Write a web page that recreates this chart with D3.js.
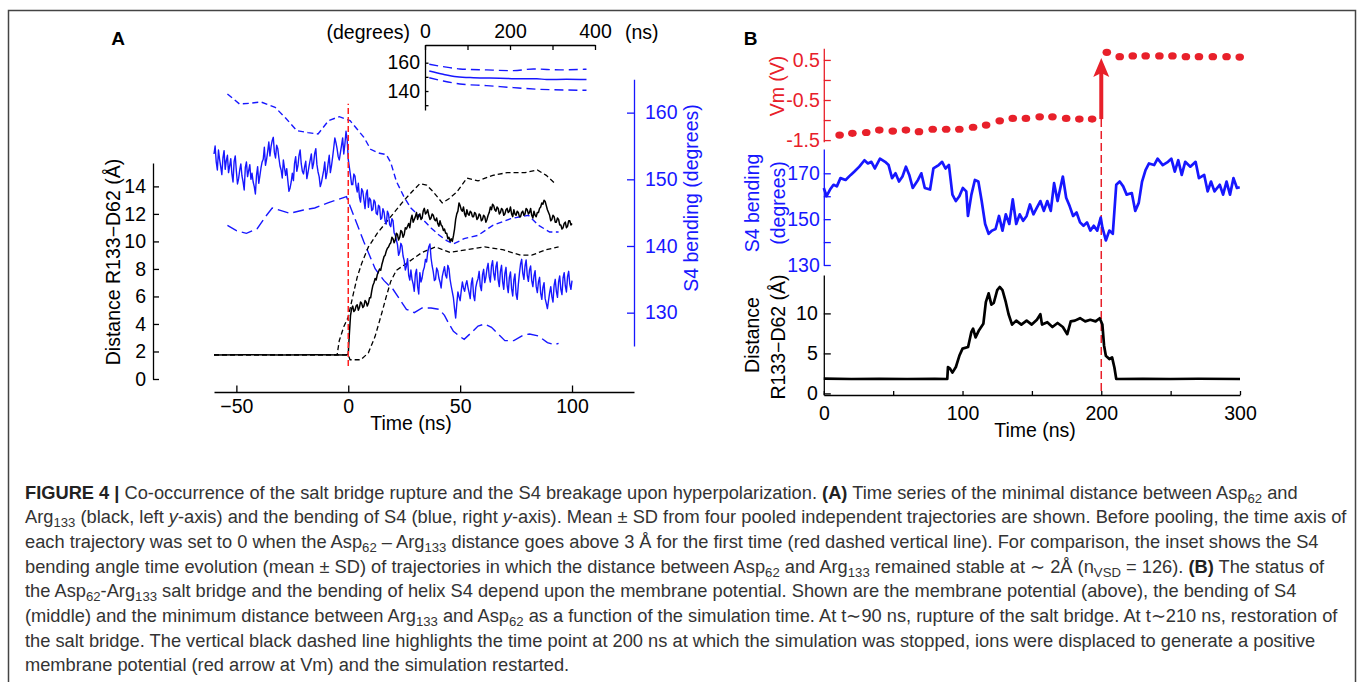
<!DOCTYPE html>
<html>
<head>
<meta charset="utf-8">
<script src="https://cdn.jsdelivr.net/npm/d3@7"></script>
<style>
  body { margin: 0; background: #fff; }
  svg { display: block; font-family: "Liberation Sans", Arial, sans-serif; }
  .cap { white-space: pre; }
</style>
</head>
<body>
<svg id="fig" width="1358" height="682"></svg>
<script>
// ---------- data: panel A (time in ns, distance in Å, bending in degrees) ----------
const aXTicks = [-50, 0, 50, 100];
const aDistTicks = [0, 2, 4, 6, 8, 10, 12, 14];
const aBendTicks = [130, 140, 150, 160];

const aBlackMean = [[-60,1.75],[-45,1.77],[-30,1.74],[-15,1.76],[-1,1.75],[0,1.8],[0.5,3.3],[1,4.6],[1.5,5.1],[2,5.3],[2.5,4.9],[3,5.0],[3.5,5.3],[4,5.4],[4.5,5.0],[5,5.2],[5.5,5.6],[6,5.5],[6.5,5.2],[7,5.3],[7.5,5.7],[8,5.6],[8.5,5.3],[9,5.5],[9.5,5.9],[10,5.9],[10.5,6.4],[11,6.8],[11.5,7.0],[12,7.3],[12.5,7.2],[13,7.6],[13.5,7.8],[14,8.0],[14.5,7.9],[15,8.3],[15.5,8.6],[16,8.9],[16.5,9.0],[17,9.3],[17.5,9.5],[18,9.6],[18.5,9.8],[19,9.9],[19.5,10.3],[20,10.2],[20.5,9.9],[21,10.1],[21.5,10.6],[22,10.5],[22.5,10.1],[23,10.3],[23.5,10.8],[24,10.7],[24.5,10.3],[25,10.5],[25.5,11.0],[26,10.9],[26.5,11.1],[27,11.3],[27.5,11.0],[28,11.6],[28.5,11.9],[29,11.4],[29.5,11.6],[30,11.8],[30.5,12.1],[31,11.6],[31.5,11.9],[32,12.0],[32.5,11.6],[33,11.7],[33.5,12.2],[34,12.4],[34.5,12.0],[35,12.1],[35.5,12.3],[36,11.9],[36.5,11.6],[37,11.7],[37.5,12.0],[38,11.9],[38.5,11.6],[39,11.5],[39.5,11.7],[40,11.3],[40.5,11.1],[41,11.5],[41.5,11.2],[42,11.1],[42.5,10.8],[43,10.9],[43.5,10.6],[44,10.6],[44.5,10.2],[45,10.3],[45.5,10.0],[46,10.2],[46.5,10.0],[47,10.4],[47.5,10.9],[48,11.6],[48.5,12.0],[49,12.2],[49.5,12.8],[50,12.6],[50.5,12.3],[51,12.2],[51.5,12.5],[52,12.0],[52.5,11.8],[53,12.3],[53.5,12.0],[54,11.9],[54.5,12.2],[55,12.1],[55.5,11.8],[56,11.8],[56.5,12.1],[57,12.0],[57.5,11.6],[58,11.7],[58.5,12.0],[59,11.9],[59.5,11.5],[60,11.6],[60.5,11.9],[61,11.8],[61.5,11.4],[62,11.6],[62.5,11.9],[63,12.1],[63.5,12.5],[64,12.3],[64.5,12.7],[65,12.6],[65.5,12.3],[66,12.2],[66.5,12.5],[67,12.4],[67.5,12.0],[68,12.1],[68.5,12.4],[69,12.3],[69.5,11.9],[70,12.0],[70.5,12.3],[71,12.4],[71.5,12.1],[72,12.2],[72.5,12.5],[73,12.0],[73.5,11.8],[74,12.3],[74.5,12.0],[75,11.9],[75.5,12.2],[76,12.1],[76.5,11.8],[77,11.8],[77.5,12.1],[78,12.2],[78.5,11.9],[79,12.0],[79.5,12.4],[80,12.3],[80.5,12.0],[81,12.1],[81.5,12.4],[82,11.9],[82.5,11.7],[83,12.2],[83.5,11.9],[84,11.8],[84.5,12.1],[85,12.1],[85.5,12.4],[86,12.5],[86.5,12.8],[87,12.7],[87.5,13.0],[88,12.9],[88.5,12.6],[89,12.3],[89.5,12.1],[90,11.9],[90.5,11.5],[91,11.6],[91.5,11.9],[92,11.8],[92.5,11.4],[93,11.4],[93.5,11.7],[94,11.6],[94.5,11.2],[95,11.2],[95.5,10.9],[96,11.0],[96.5,11.3],[97,11.4],[97.5,11.0],[98,11.1],[98.5,11.5],[99,11.5],[99.5,11.2],[100,11.3]];
const aBlackUpper = [[-60,1.75],[-5,1.75],[-4,2.8],[-2,3.8],[0,4.5],[2,6.0],[4,7.4],[6,8.4],[9,9.6],[13,10.6],[17,11.4],[21,12.2],[25,13.0],[29,13.7],[32,14.2],[35,14.1],[38,13.6],[42,12.8],[45,13.1],[48.6,13.6],[53,14.6],[58,14.4],[64.6,14.8],[71,15.0],[79,15.0],[84.5,15.2],[88.5,14.8],[92.5,14.2]];
const aBlackLower = [[-60,1.75],[0,1.75],[0.8,1.4],[5.6,1.4],[9,1.9],[12,3.1],[15,4.8],[17,6.0],[19,7.1],[21.5,7.9],[26,8.4],[33,9.2],[39,9.6],[45.5,9.2],[53,9.4],[61,9.6],[69,9.4],[77,9.0],[82,9.0],[88.5,9.4],[94,9.6]];

const aBlueMean = [[-60,153.8],[-59.5,155.0],[-59,152.6],[-58.5,151.4],[-58,154.4],[-57.5,153.0],[-57,151.9],[-56.5,150.7],[-56,153.2],[-55.5,154.3],[-55,151.5],[-54.5,152.8],[-54,153.6],[-53.5,151.0],[-53,152.0],[-52.5,153.1],[-52,150.8],[-51.5,149.6],[-51,152.7],[-50.5,153.5],[-50,151.2],[-49.5,149.3],[-49,150.1],[-48.5,151.4],[-48,152.3],[-47.5,150.5],[-47,149.6],[-46.5,148.4],[-46,151.8],[-45.5,152.6],[-45,150.4],[-44.5,151.3],[-44,152.2],[-43.5,150.0],[-43,150.9],[-42.5,149.6],[-42,148.9],[-41.5,147.8],[-41,150.6],[-40.5,151.9],[-40,149.4],[-39.5,150.5],[-39,151.7],[-38.5,152.6],[-38,153.0],[-37.5,154.8],[-37,152.1],[-36.5,153.0],[-36,154.2],[-35.5,155.6],[-35,153.5],[-34.5,154.9],[-34,155.8],[-33.5,156.3],[-33,154.0],[-32.5,153.2],[-32,155.1],[-31.5,154.6],[-31,153.2],[-30.5,152.0],[-30,151.4],[-29.5,150.2],[-29,152.9],[-28.5,151.7],[-28,150.6],[-27.5,151.6],[-27,149.8],[-26.5,148.2],[-26,148.7],[-25.5,149.6],[-25,150.9],[-24.5,149.8],[-24,152.4],[-23.5,153.4],[-23,151.2],[-22.5,152.0],[-22,153.6],[-21.5,154.4],[-21,152.3],[-20.5,151.2],[-20,150.8],[-19.5,151.9],[-19,152.7],[-18.5,150.1],[-18,151.0],[-17.5,152.0],[-17,152.9],[-16.5,153.8],[-16,151.6],[-15.5,152.4],[-15,153.9],[-14.5,154.6],[-14,152.2],[-13.5,151.1],[-13,150.4],[-12.5,148.9],[-12,149.5],[-11.5,150.4],[-11,151.3],[-10.5,152.6],[-10,150.1],[-9.5,151.0],[-9,152.4],[-8.5,153.6],[-8,151.0],[-7.5,152.0],[-7,153.3],[-6.5,154.7],[-6,156.2],[-5.5,155.5],[-5,154.6],[-4.5,153.4],[-4,152.9],[-3.5,154.0],[-3,155.1],[-2.5,156.2],[-2,153.8],[-1.5,155.3],[-1,157.2],[-0.5,156.0],[0,153.0],[0.5,151.8],[1,150.6],[1.5,149.2],[2,149.2],[2.5,150.8],[3,150.5],[3.5,149.0],[4,148.1],[4.5,149.4],[5,147.3],[5.5,146.6],[6,148.6],[6.5,148.2],[7,146.9],[7.5,145.6],[8,147.8],[8.5,148.4],[9,145.8],[9.5,147.2],[10,146.9],[10.5,145.3],[11,145.5],[11.5,146.9],[12,146.6],[12.5,144.9],[13,144.7],[13.5,146.1],[14,145.9],[14.5,144.0],[15,144.2],[15.5,145.6],[16,145.1],[16.5,143.7],[17,143.3],[17.5,145.2],[18,144.8],[18.5,143.2],[19,142.9],[19.5,144.1],[20,143.8],[20.5,142.0],[21,141.6],[21.5,140.9],[22,140.2],[22.5,138.6],[23,139.1],[23.5,140.4],[24,140.0],[24.5,138.5],[25,137.8],[25.5,136.4],[26,137.0],[26.5,138.1],[27,135.6],[27.5,134.9],[28,136.4],[28.5,135.0],[29,134.3],[29.5,133.2],[30,135.8],[30.5,136.5],[31,133.9],[31.5,132.8],[32,136.0],[32.5,134.6],[33,135.2],[33.5,136.3],[34,136.8],[34.5,138.0],[35,137.6],[35.5,139.0],[36,139.9],[36.5,140.3],[37,138.2],[37.5,137.0],[38,136.1],[38.5,134.8],[39,135.0],[39.5,136.7],[40,136.3],[40.5,135.2],[41,134.6],[41.5,133.7],[42,135.4],[42.5,136.2],[43,136.9],[43.5,135.6],[44,135.2],[44.5,137.1],[45,136.6],[45.5,135.0],[46,134.0],[46.5,133.1],[47,132.2],[47.5,130.6],[48,129.2],[48.5,131.3],[49,133.1],[49.5,132.4],[50,131.8],[50.5,133.3],[51,134.6],[51.5,133.7],[52,133.2],[52.5,134.2],[53,134.8],[53.5,133.8],[54,133.0],[54.5,132.1],[55,134.4],[55.5,135.2],[56,132.6],[56.5,131.8],[57,133.8],[57.5,134.6],[58,135.1],[58.5,136.2],[59,134.0],[59.5,133.3],[60,135.7],[60.5,136.5],[61,134.5],[61.5,135.3],[62,136.6],[62.5,137.4],[63,135.4],[63.5,134.6],[64,137.0],[64.5,137.8],[65,135.8],[65.5,134.9],[66,136.9],[66.5,137.6],[67,134.9],[67.5,133.9],[68,136.2],[68.5,137.1],[69,134.6],[69.5,133.5],[70,135.9],[70.5,136.8],[71,134.1],[71.5,133.0],[72,135.3],[72.5,136.1],[73,133.6],[73.5,132.5],[74,134.9],[74.5,135.8],[75,132.8],[75.5,132.0],[76,134.2],[76.5,135.9],[77,137.3],[77.5,138.0],[78,135.9],[78.5,135.0],[79,137.0],[79.5,137.9],[80,135.6],[80.5,134.7],[81,136.4],[81.5,137.0],[82,134.8],[82.5,133.9],[83,135.5],[83.5,136.3],[84,133.9],[84.5,133.0],[85,134.6],[85.5,135.3],[86,132.9],[86.5,132.0],[87,133.8],[87.5,134.5],[88,132.1],[88.5,131.4],[89,130.6],[89.5,131.8],[90,133.0],[90.5,133.9],[91,132.4],[91.5,131.6],[92,134.1],[92.5,135.0],[93,133.2],[93.5,132.3],[94,134.6],[94.5,135.5],[95,133.5],[95.5,132.7],[96,135.2],[96.5,136.0],[97,134.0],[97.5,133.1],[98,135.4],[98.5,136.2],[99,134.3],[99.5,133.5],[100,134.8]];
const aBlueUpper = [[-54,162.8],[-48.6,161.3],[-44,161.4],[-39,161.6],[-32.7,160.8],[-28,159.2],[-23,157.3],[-18,157.0],[-13.5,156.8],[-8.8,158.8],[-4,159.4],[0.8,158.8],[4,157.5],[7,156.3],[10,154.5],[14,153.9],[17,153.7],[19,152.5],[21.5,149.7],[25,147.3],[28,145.7],[33,144.1],[37,142.7],[40.7,141.6],[44,140.8],[47,140.3],[51.8,141.1],[58,141.6],[64.6,143.1],[72.6,144.1],[80.5,144.6],[85,143.1],[90,142.1],[94,142.1]];
const aBlueLower = [[-54,143.1],[-50,142.3],[-45.5,141.9],[-40.7,142.6],[-37,144.4],[-34,145.7],[-30,145.3],[-26,144.9],[-20,145.4],[-15,145.7],[-8.8,146.5],[-0.8,147.4],[2.4,144.6],[7,140.6],[12,136.6],[16,134.8],[20,133.5],[23,132.0],[26,130.5],[29.5,130.0],[33,130.7],[37,130.7],[40.7,130.5],[43,129.6],[44.7,128.5],[47,127.2],[50,126.4],[51.8,126.0],[55,127.0],[58,128.0],[61,128.3],[64,127.8],[67,126.8],[70,125.8],[74,125.8],[78,126.6],[81,126.8],[85,126.5],[89,125.5],[92,125.2],[94,125.4]];
const aMarkerRange = [0.95, 20.0]; // red dashed line at t = 0, in Å units

// inset: pooled stable trajectories
const insetXTicks = [0, 100, 200, 300, 400];
const insetYTicks = [130, 140, 150, 160];
const insetMean = [[10,154.1],[43,151.8],[75,150.1],[114,149.4],[176,149.0],[224,148.6],[263,148.7],[286,148.1],[333,148.3],[380,148.1]];
const insetUpper = [[10,158.9],[43,157.2],[82,155.6],[145,154.9],[208,154.4],[255,155.6],[318,154.9],[380,155.4]];
const insetLower = [[10,149.4],[43,147.1],[82,145.0],[145,143.8],[208,142.4],[271,141.2],[333,140.7],[380,140.5]];

// ---------- data: panel B ----------
const bXTicks = [0, 50, 100, 150, 200, 250, 300];
const bVmTicks = [-1.5, -1, -0.5, 0, 0.5];
const bBendTicks = [130, 140, 150, 160, 170];
const bDistTicks = [0, 5, 10];

const bVm = [[11.4,-1.375],[20.6,-1.33],[30.6,-1.31],[40,-1.25],[49.7,-1.275],[59.2,-1.25],[68.6,-1.29],[78.5,-1.23],[88.2,-1.23],[97.7,-1.23],[107.6,-1.18],[117,-1.125],[126.8,-1.02],[136.2,-0.96],[145.7,-0.96],[155.6,-0.92],[164.8,-0.92],[174.7,-0.96],[184.2,-0.975],[193.4,-0.975],[204,0.69],[213.3,0.58],[222.7,0.6],[232,0.6],[241.9,0.6],[251.3,0.6],[261,0.58],[270.4,0.58],[280.4,0.58],[290.3,0.58],[299.8,0.57]];
const bArrow = { t: 200, from: -0.975, to: 0.55 };

const bBend = [[0,163.6],[2,160],[4.5,162.9],[7,165],[9.4,164.3],[12,167.9],[15.7,167.1],[19.4,169.3],[21.9,170.7],[25.6,172.9],[29.3,175.7],[31.8,174.3],[34.3,175],[36.8,172.1],[40.5,176.4],[44.2,175],[46.7,173.6],[49.2,167.9],[51.7,170],[54.2,166.4],[56.7,168.6],[59.2,172.9],[61.6,169.3],[64.1,163.6],[67.9,167.1],[70.3,170],[72.8,163.6],[76.6,162.9],[79,172.1],[82.8,173.6],[85.3,175],[87.7,172.1],[90.2,173.6],[92.7,160.7],[95.2,157.9],[97.7,160],[100.2,163.6],[102.7,162.1],[103.9,151.4],[106.4,160.7],[108.9,167.1],[111.4,166.4],[113.8,157.9],[116.3,147.9],[118.8,143.6],[121.3,145],[123.8,145.7],[126.3,151.4],[128.8,145],[131.2,152.1],[133.7,147.9],[136.2,158.6],[138.7,147.9],[141.2,152.1],[143.7,149.3],[146.2,151.4],[148.6,156.4],[151.1,152.1],[153.6,155],[156.1,157.9],[158.6,153.6],[161.1,157.9],[163.6,153.6],[166,165.7],[168.5,157.9],[171,165],[172.3,168.6],[174.7,159.3],[177.2,155.7],[179.7,151.4],[182.2,152.9],[184.7,148.6],[187.2,147.1],[189.7,148.6],[192.1,145],[194.6,147.1],[197.1,145],[199.6,150.7],[200.8,146.4],[203.3,140.7],[205.8,145],[208.3,143.6],[210.8,165],[213.3,166.4],[215.8,164.3],[218.3,160.7],[222,161.4],[224.5,153.6],[227,157.1],[229.4,166.4],[231.9,171.4],[234.4,174.3],[238.1,173.6],[240.6,176.4],[244.3,173.6],[248.1,175],[250.5,176.4],[253,170.7],[255.5,175.7],[258,169.3],[260.5,175],[264.2,172.9],[268,175],[270.4,167.9],[274.2,169.3],[276.7,162.1],[279.1,166.4],[281.6,162.1],[285.4,165],[287.8,160.7],[290.3,166.4],[292.8,160.7],[295.3,167.9],[297.8,163.6],[299.8,163.9]];

const bDist = [[0,1.85],[20,1.8],[40,1.82],[60,1.8],[80,1.82],[89,1.8],[89.5,3.3],[91,3.1],[92.7,2.6],[95.2,3.3],[97.7,4.7],[100,5.6],[104,5.8],[106.4,7.7],[107.6,8.1],[109.4,7.0],[111.9,7.9],[115,8.7],[116.8,11.4],[118.8,12.5],[120.8,11.1],[122.5,11.3],[125,12.9],[126.8,13.3],[128.8,12.9],[131.2,11.4],[133.2,9.9],[135.7,8.6],[138.7,9.1],[142.4,8.6],[146.2,9.1],[149.9,8.6],[153.6,9.2],[156.1,9.9],[157.3,8.6],[161.1,8.9],[164.8,8.3],[168.5,8.8],[172.3,8.3],[175.5,7.4],[178,9.0],[181,9.1],[184.7,9.4],[188.4,9.0],[192.1,9.2],[195.9,9.0],[198.9,9.4],[200.8,8.6],[202,6.0],[203.3,4.7],[205.8,4.3],[207.8,4.5],[209.5,3.2],[210.8,1.8],[230,1.82],[250,1.8],[270,1.83],[300,1.8]];

// ---------- caption ----------
const captionLines = [
  [["FIGURE 4 |","b"],[" Co-occurrence of the salt bridge rupture and the S4 breakage upon hyperpolarization. ",""],["(A)","b"],[" Time series of the minimal distance between Asp",""],["62","s"],[" and",""]],
  [["Arg",""],["133","s"],[" (black, left ",""],["y","i"],["-axis) and the bending of S4 (blue, right ",""],["y","i"],["-axis). Mean ± SD from four pooled independent trajectories are shown. Before pooling, the time axis of",""]],
  [["each trajectory was set to 0 when the Asp",""],["62","s"],[" – Arg",""],["133","s"],[" distance goes above 3 Å for the first time (red dashed vertical line). For comparison, the inset shows the S4",""]],
  [["bending angle time evolution (mean ± SD) of trajectories in which the distance between Asp",""],["62","s"],[" and Arg",""],["133","s"],[" remained stable at ∼ 2Å (n",""],["VSD","s"],[" = 126). ",""],["(B)","b"],[" The status of",""]],
  [["the Asp",""],["62","s"],["-Arg",""],["133","s"],[" salt bridge and the bending of helix S4 depend upon the membrane potential. Shown are the membrane potential (above), the bending of S4",""]],
  [["(middle) and the minimum distance between Arg",""],["133","s"],[" and Asp",""],["62","s"],[" as a function of the simulation time. At t∼90 ns, rupture of the salt bridge. At t∼210 ns, restoration of",""]],
  [["the salt bridge. The vertical black dashed line highlights the time point at 200 ns at which the simulation was stopped, ions were displaced to generate a positive",""]],
  [["membrane potential (red arrow at Vm) and the simulation restarted.",""]]
];

const BLUE = '#1717ff';
const RED = '#e8202a';
const FS = 19.5;

const svg = d3.select('#fig');

// frame round the figure
svg.append('rect')
  .attr('x', 8.5).attr('y', 10.5).attr('width', 1347).attr('height', 700)
  .attr('fill', 'none').attr('stroke', '#444').attr('stroke-width', 1.5);

function styleAxis(g, color) {
  g.attr('font-size', null).attr('font-family', null);
  g.select('.domain').attr('stroke', color).attr('stroke-width', 1.3);
  g.selectAll('.tick line').attr('stroke', color).attr('stroke-width', 1.3);
  g.selectAll('.tick text').attr('fill', color).style('font-size', FS + 'px');
}

function label(txt, x, y, opts = {}) {
  const t = svg.append('text')
    .attr('x', x).attr('y', y)
    .attr('text-anchor', opts.anchor || 'middle')
    .attr('fill', opts.color || '#000')
    .style('font-size', (opts.size || FS) + 'px')
    .style('font-weight', opts.bold ? 'bold' : null)
    .text(txt);
  if (opts.rotate) {
    t.attr('dominant-baseline', 'central')
      .attr('transform', `rotate(-90, ${x}, ${y})`);
  }
  return t;
}

// ========== Panel A ==========
const xA = d3.scaleLinear().domain([-60, 127.7]).range([214, 634]);
const yA = d3.scaleLinear().domain([0, 15.7]).range([379, 163]);
const yAb = d3.scaleLinear().domain([125, 165]).range([346, 79.3]);

svg.append('g').attr('transform', 'translate(0,392)')
  .call(d3.axisBottom(xA).tickValues(aXTicks).tickSize(-6.5).tickSizeOuter(0).tickPadding(7))
  .call(g => styleAxis(g, '#000'));

svg.append('g').attr('transform', 'translate(153,0)')
  .call(d3.axisLeft(yA).tickValues(aDistTicks).tickSize(-6).tickSizeOuter(0).tickPadding(7))
  .call(g => styleAxis(g, '#000'));

svg.append('g').attr('transform', 'translate(634,0)')
  .call(d3.axisRight(yAb).tickValues(aBendTicks).tickSize(-7).tickSizeOuter(0).tickPadding(11))
  .call(g => styleAxis(g, BLUE));

const lineA = d3.line().x(d => xA(d[0])).y(d => yA(d[1]));
const lineAb = d3.line().x(d => xA(d[0])).y(d => yAb(d[1]));

svg.append('path').datum(aBlueUpper).attr('d', lineAb)
  .attr('fill', 'none').attr('stroke', BLUE).attr('stroke-width', 1.4).attr('stroke-dasharray', '6,3.5');
svg.append('path').datum(aBlueLower).attr('d', lineAb)
  .attr('fill', 'none').attr('stroke', BLUE).attr('stroke-width', 1.4).attr('stroke-dasharray', '11,5');
svg.append('path').datum(aBlackUpper).attr('d', lineA)
  .attr('fill', 'none').attr('stroke', '#000').attr('stroke-width', 1.3).attr('stroke-dasharray', '5,3');
svg.append('path').datum(aBlackLower).attr('d', lineA)
  .attr('fill', 'none').attr('stroke', '#000').attr('stroke-width', 1.3).attr('stroke-dasharray', '5,3');
svg.append('path').datum(aBlueMean).attr('d', lineAb)
  .attr('fill', 'none').attr('stroke', BLUE).attr('stroke-width', 1.4).attr('stroke-linejoin', 'round');
svg.append('path').datum(aBlackMean).attr('d', lineA)
  .attr('fill', 'none').attr('stroke', '#000').attr('stroke-width', 1.5).attr('stroke-linejoin', 'round');

svg.append('line')
  .attr('x1', xA(0)).attr('x2', xA(0))
  .attr('y1', yA(aMarkerRange[0])).attr('y2', yA(aMarkerRange[1]))
  .attr('stroke', '#ff1f1f').attr('stroke-width', 1.5).attr('stroke-dasharray', '6,3');

label('A', 118, 45, { bold: true, size: 19 });
label('Time (ns)', 411, 430);
label('Distance R133\u2212D62 (Å)', 112.5, 262, { rotate: true });
label('S4 bending (degrees)', 691, 198, { rotate: true, color: BLUE });

// inset
const xI = d3.scaleLinear().domain([0, 400]).range([425, 595]);
const yI = d3.scaleLinear().domain([126.6, 172.5]).range([110, 45]);

svg.append('g').attr('transform', 'translate(0,45)')
  .call(d3.axisTop(xI).tickValues(insetXTicks).tickSize(-5).tickSizeOuter(0).tickPadding(7)
    .tickFormat(d => d % 200 === 0 ? d : ''))
  .call(g => styleAxis(g, '#000'));
svg.append('g').attr('transform', 'translate(425,0)')
  .call(d3.axisLeft(yI).tickValues(insetYTicks).tickSize(-3.5).tickSizeOuter(0).tickPadding(5)
    .tickFormat(d => d % 20 === 0 ? d : ''))
  .call(g => styleAxis(g, '#000'));

const lineI = d3.line().x(d => xI(d[0])).y(d => yI(d[1])).curve(d3.curveMonotoneX);
svg.append('path').datum(insetUpper).attr('d', lineI)
  .attr('fill', 'none').attr('stroke', BLUE).attr('stroke-width', 1.4).attr('stroke-dasharray', '9,5');
svg.append('path').datum(insetLower).attr('d', lineI)
  .attr('fill', 'none').attr('stroke', BLUE).attr('stroke-width', 1.4).attr('stroke-dasharray', '9,5');
svg.append('path').datum(insetMean).attr('d', lineI)
  .attr('fill', 'none').attr('stroke', BLUE).attr('stroke-width', 1.5);

label('(degrees)', 410, 38.5, { anchor: 'end' });
label('(ns)', 625, 38.5, { anchor: 'start' });

// ========== Panel B ==========
const xB = d3.scaleLinear().domain([0, 300]).range([823.8, 1240]);
const yVm = d3.scaleLinear().domain([-1.54, 0.79]).range([141.7, 48.3]);
const yS4 = d3.scaleLinear().domain([130, 180.6]).range([265, 149]);
const yD = d3.scaleLinear().domain([-0.2, 14.8]).range([395, 275]);

svg.append('g').attr('transform', 'translate(0,395)')
  .call(d3.axisBottom(xB).tickValues(bXTicks).tickSize(-4).tickSizeOuter(0).tickPadding(11)
    .tickFormat(d => d % 100 === 0 ? d : ''))
  .call(g => styleAxis(g, '#000'));

svg.append('g').attr('transform', 'translate(823.8,0)')
  .call(d3.axisLeft(yVm).tickValues(bVmTicks).tickSize(-7).tickSizeOuter(0).tickPadding(4)
    .tickFormat(d => (d * 2) % 2 !== 0 ? String(d) : ''))
  .call(g => styleAxis(g, RED));

svg.append('g').attr('transform', 'translate(823.8,0)')
  .call(d3.axisLeft(yS4).tickValues(bBendTicks).tickSize(-7).tickSizeOuter(0).tickPadding(4)
    .tickFormat(d => d % 20 === 10 ? d : ''))
  .call(g => styleAxis(g, BLUE));

svg.append('g').attr('transform', 'translate(823.8,0)')
  .call(d3.axisLeft(yD).tickValues(bDistTicks).tickSize(-7).tickSizeOuter(0).tickPadding(6))
  .call(g => styleAxis(g, '#000'));

// dashed marker at the restart time
svg.append('line')
  .attr('x1', xB(bArrow.t)).attr('x2', xB(bArrow.t))
  .attr('y1', yVm(bArrow.from)).attr('y2', yD(-0.2))
  .attr('stroke', RED).attr('stroke-width', 1.5).attr('stroke-dasharray', '8,4');

svg.append('path').datum(bBend)
  .attr('d', d3.line().x(d => xB(d[0])).y(d => yS4(d[1])))
  .attr('fill', 'none').attr('stroke', BLUE).attr('stroke-width', 2.7).attr('stroke-linejoin', 'round');

svg.append('path').datum(bDist)
  .attr('d', d3.line().x(d => xB(d[0])).y(d => yD(d[1])))
  .attr('fill', 'none').attr('stroke', '#000').attr('stroke-width', 2.7).attr('stroke-linejoin', 'round');

svg.append('g').selectAll('ellipse').data(bVm).join('ellipse')
  .attr('cx', d => xB(d[0])).attr('cy', d => yVm(d[1]))
  .attr('rx', 4.3).attr('ry', 3.6).attr('fill', RED);

// red arrow
const ax = xB(bArrow.t), tipY = yVm(bArrow.to);
svg.append('line')
  .attr('x1', ax).attr('x2', ax)
  .attr('y1', yVm(bArrow.from)).attr('y2', tipY + 14)
  .attr('stroke', RED).attr('stroke-width', 4);
svg.append('path')
  .attr('d', `M${ax},${tipY} L${ax - 8},${tipY + 19} L${ax},${tipY + 15} L${ax + 8},${tipY + 19} Z`)
  .attr('fill', RED);

label('B', 750.5, 45, { bold: true, size: 19 });
label('Time (ns)', 1035, 437);
label('Vm (V)', 776.5, 86, { rotate: true, color: RED });
label('S4 bending', 752.4, 203, { rotate: true, color: BLUE });
label('(degrees)', 778.3, 203, { rotate: true, color: BLUE });
label('Distance', 751.7, 335, { rotate: true });
label('R133\u2212D62 (Å)', 778.3, 337, { rotate: true });

// ========== caption ==========
const cap = svg.append('g').attr('class', 'cap').attr('fill', '#333');

function drawCaption(fs) {
  cap.selectAll('*').remove();
  captionLines.forEach((segs, i) => {
    const t = cap.append('text')
      .attr('x', 25).attr('y', 498.5 + i * 24.7)
      .style('font-size', fs + 'px');
    let shifted = false;
    segs.forEach(([txt, st]) => {
      const sp = t.append('tspan').text(txt);
      if (st === 'b') sp.style('font-weight', 'bold').attr('fill', '#222');
      if (st === 'i') sp.style('font-style', 'italic');
      if (st === 's') {
        sp.style('font-size', (fs * 0.72) + 'px').attr('dy', shifted ? null : fs * 0.22);
        shifted = true;
      } else if (shifted) {
        sp.attr('dy', -fs * 0.22);
        shifted = false;
      }
    });
  });
}

drawCaption(16);
const widest = cap.selectAll('text').nodes()[5].getComputedTextLength();
drawCaption(16 * 1313 / widest);
</script>
</body>
</html>
